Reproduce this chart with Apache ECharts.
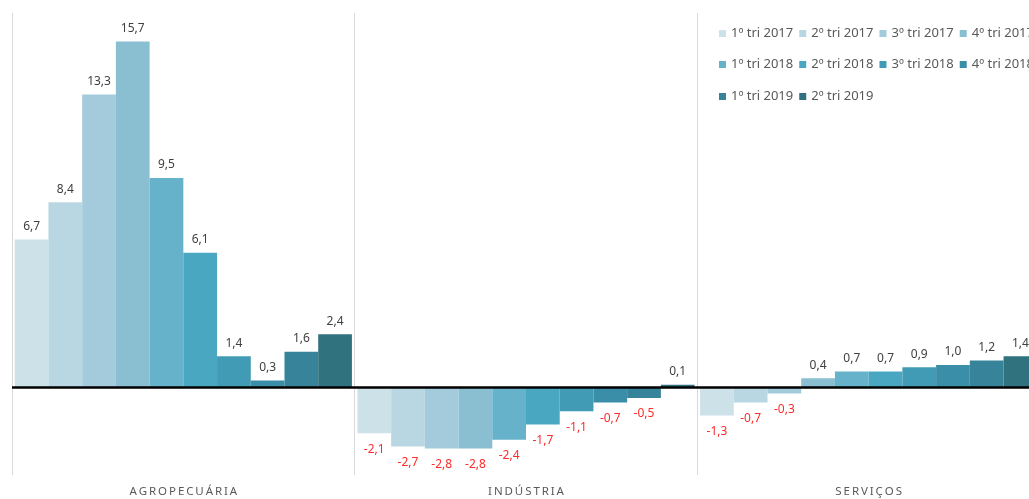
<!DOCTYPE html>
<html>
<head>
<meta charset="utf-8">
<script src="https://cdn.jsdelivr.net/npm/echarts@6/dist/echarts.min.js"></script>
<style>
    html, body { margin: 0; padding: 0; background: #fff; }
    #chart { width: 1029px; height: 499px; }
</style>
</head>
<body>
<div id="chart"></div>
<script>
// setores
var categories = ['AGROPECUÁRIA', 'INDÚSTRIA', 'SERVIÇOS']

// trimestres
var periods = [
    '1º tri 2017', '2º tri 2017', '3º tri 2017', '4º tri 2017',
    '1º tri 2018', '2º tri 2018', '3º tri 2018', '4º tri 2018',
    '1º tri 2019', '2º tri 2019'
]

// valores por trimestre: [agro, industria, servicos]
var t1_2017 = [6.7, -2.1, -1.3]
var t2_2017 = [8.4, -2.7, -0.7]
var t3_2017 = [13.3, -2.8, -0.3]
var t4_2017 = [15.7, -2.8, 0.4]
var t1_2018 = [9.5, -2.4, 0.7]
var t2_2018 = [6.1, -1.7, 0.7]
var t3_2018 = [1.4, -1.1, 0.9]
var t4_2018 = [0.3, -0.7, 1.0]
var t1_2019 = [1.6, -0.5, 1.2]
var t2_2019 = [2.4, 0.1, 1.4]

var values = [t1_2017, t2_2017, t3_2017, t4_2017, t1_2018, t2_2018, t3_2018, t4_2018, t1_2019, t2_2019]

var colors = ['#cde1e9', '#b8d7e2', '#a4cbdc', '#89bfd1', '#65b2ca',
              '#49a7c2', '#429bb4', '#3b8ea7', '#36839a', '#31727f']

var font = 'Noto Sans'

var fmt = function(v) {
    return v.toFixed(1).replace('.', ',')
}

var series = []
for (var i = 0; i < periods.length; i++) {
    var data = values[i].map(function(v) {
        var neg = v < 0
        return {
            value: v,
            label: {
                position: neg ? 'bottom' : 'top',
                distance: neg ? 10 : 7,
                color: neg ? '#ff2a2a' : '#404040'
            }
        }
    })
    var s = {
        name: periods[i],
        type: 'bar',
        barGap: '0%',
        barCategoryGap: '1.6%',
        itemStyle: { color: colors[i] },
        label: {
            show: true,
            fontFamily: font,
            fontSize: 12,
            formatter: function(p) { return fmt(p.value) }
        },
        data: data
    }
    if (i == 0) {
        // linha do zero
        s.markLine = {
            silent: true,
            symbol: 'none',
            label: { show: false },
            lineStyle: { color: '#000', width: 2.5, type: 'solid' },
            data: [{ yAxis: 0 }]
        }
    }
    series.push(s)
}

var legendRow = function(items, top) {
    return {
        left: 714,
        top: top,
        width: 400,
        orient: 'horizontal',
        itemWidth: 7,
        itemHeight: 7,
        itemGap: 6,
        icon: 'rect',
        textStyle: { fontFamily: font, fontSize: 13, color: '#595959' },
        data: items
    }
}

var option = {
    animation: false,
    backgroundColor: '#fff',
    legend: [
        legendRow(periods.slice(0, 4), 22),
        legendRow(periods.slice(4, 8), 53),
        legendRow(periods.slice(8, 10), 85)
    ],
    grid: {
        left: 12,
        top: 13,
        width: 1028,
        bottom: 24,
        outerBoundsMode: 'none'
    },
    xAxis: {
        type: 'category',
        data: categories,
        axisLine: { show: false },
        axisTick: { show: false },
        splitLine: {
            show: true,
            interval: 0,
            lineStyle: { color: '#d9d9d9', width: 1 }
        },
        axisLabel: {
            margin: 11,
            fontFamily: font,
            fontSize: 11.5,
            color: '#595959',
            formatter: function(v) { return v.split('').join('\u2009') }
        }
    },
    yAxis: {
        type: 'value',
        min: -4,
        max: 17,
        show: false,
        splitLine: { show: false }
    },
    series: series
}

echarts.init(document.getElementById('chart')).setOption(option)
</script>
</body>
</html>
